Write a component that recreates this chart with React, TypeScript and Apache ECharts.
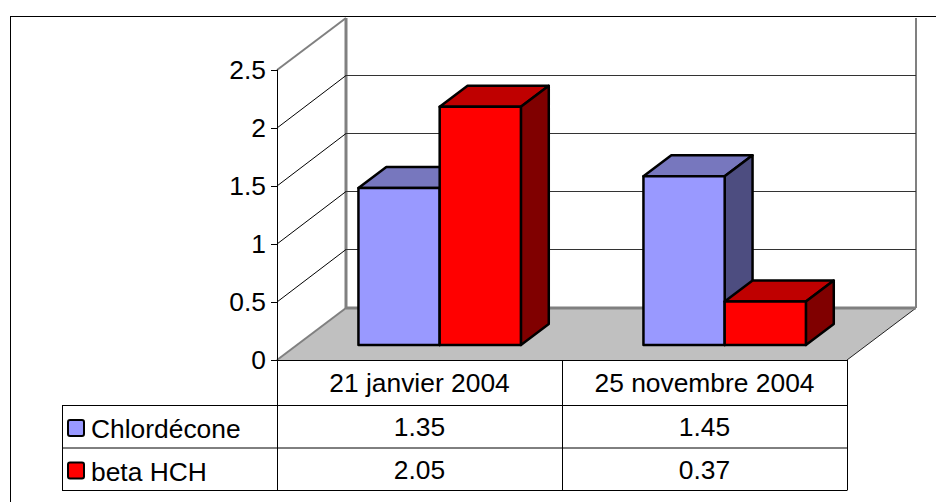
import React, { useEffect, useRef } from "react";
import * as echarts from "echarts";

const categories = ["21 janvier 2004", "25 novembre 2004"];
const chlordecone = [1.35, 1.45];
const betaHCH = [2.05, 0.37];
const seriesNames = ["Chlordécone", "beta HCH"];
const yTicks = [0, 0.5, 1, 1.5, 2, 2.5];

const FONT = "'Liberation Sans', Arial, sans-serif";
const FONT_SIZE = 26.4;
const FRONT = ["#9999FF", "#FF0000"];
const TOP = ["#7777BE", "#BF0000"];
const SIDE = ["#4D4D80", "#800000"];

// projection of the chart depth axis, in pixels
const DEPTH_X = 69;
const DEPTH_Y = -52;
const BAR_NEAR = 0.288;
const BAR_FAR = 0.692;
const BAR_SHARE = 0.285;

const GRID = { left: 277, top: 70, width: 570, height: 290 };
const ROW_LINES = [405, 447.5, 490];
const TABLE_LEFT = 62;

function barSeries(name: string, values: number[], s: number) {
  return {
    type: "custom",
    name,
    z: 3 + s,
    silent: true,
    clip: false,
    data: values.map((v, i) => [i, v]),
    encode: { x: 0, y: 1 },
    renderItem: (_p: any, api: any) => {
      const idx = api.value(0);
      const val = api.value(1);
      const cw = api.size([1, 0])[0];
      const w = cw * BAR_SHARE;
      const [cx, y0] = api.coord([idx, 0]);
      const [, y1] = api.coord([idx, val]);
      const l = cx - w + s * w + DEPTH_X * BAR_NEAR + 0.3;
      const r = l + w;
      const b = y0 + DEPTH_Y * BAR_NEAR;
      const t = y1 + DEPTH_Y * BAR_NEAR - 0.5;
      const dx = DEPTH_X * (BAR_FAR - BAR_NEAR);
      const dy = DEPTH_Y * (BAR_FAR - BAR_NEAR);
      const st = (fill: string) => ({ fill, stroke: "#000", lineWidth: 2.5, lineJoin: "round" });
      return {
        type: "group",
        children: [
          { type: "polygon", shape: { points: [[l, t], [r, t], [r + dx, t + dy], [l + dx, t + dy]] }, style: st(TOP[s]) },
          { type: "polygon", shape: { points: [[r, t], [r + dx, t + dy], [r + dx, b + dy], [r, b]] }, style: st(SIDE[s]) },
          { type: "rect", shape: { x: l, y: t, width: w, height: b - t }, style: st(FRONT[s]) },
        ],
      };
    },
  };
}

export default function App() {
  const ref = useRef<HTMLDivElement>(null);
  useEffect(() => {
    document.body.style.margin = "0";
    const chart = echarts.init(ref.current!, null, { renderer: "svg" });
    const gridRight = GRID.left + GRID.width;
    const gridBottom = GRID.top + GRID.height;
    const colW = GRID.width / categories.length;

    const hLine = (x1: number, x2: number, y: number, color = "#000", lw = 1) => ({
      type: "line", silent: true, z: 6,
      shape: { x1, y1: y, x2, y2: y }, style: { stroke: color, lineWidth: lw },
    });
    const vLine = (x: number, y1: number, y2: number, color = "#000", lw = 1) => ({
      type: "line", silent: true, z: 6,
      shape: { x1: x, y1, x2: x, y2 }, style: { stroke: color, lineWidth: lw },
    });
    const tableText = (text: string, x: number, y: number, align = "center") => ({
      type: "text", silent: true, z: 7, x, y,
      style: { text, fill: "#000", font: `${FONT_SIZE}px ${FONT}`, textAlign: align, textVerticalAlign: "middle" },
    });

    const rows = [chlordecone, betaHCH];
    const graphics: any[] = [
      hLine(10, 936, 16.5),
      vLine(10.5, 16, 502),
      vLine(TABLE_LEFT + 0.5, ROW_LINES[0], ROW_LINES[2]),
      ...ROW_LINES.map((y) => hLine(TABLE_LEFT, gridRight + 0.5, y + 0.5)),
      ...[0, 1, 2].map((i) => vLine(GRID.left + i * colW + 0.5, gridBottom, ROW_LINES[2])),
    ];
    rows.forEach((vals, r) => {
      const top = ROW_LINES[r];
      const mid = (ROW_LINES[r] + ROW_LINES[r + 1]) / 2;
      graphics.push({
        type: "rect", silent: true, z: 7,
        shape: { x: 68, y: top + 15, width: 16, height: 16, r: 2 },
        style: { fill: FRONT[r], stroke: "#000", lineWidth: 2 },
      });
      graphics.push(tableText(seriesNames[r], 91, mid + 3, "left"));
      vals.forEach((v, c) => {
        graphics.push(tableText(String(v), GRID.left + colW * (c + 0.5), mid + 1));
      });
    });

    chart.setOption({
      animation: false,
      backgroundColor: "#fff",
      grid: GRID,
      xAxis: {
        type: "category",
        data: categories,
        z: 6,
        axisLine: { lineStyle: { color: "#000", width: 1 } },
        axisTick: { show: false },
        axisLabel: { color: "#000", fontFamily: FONT, fontSize: FONT_SIZE, margin: 10, interval: 0 },
      },
      yAxis: {
        type: "value",
        min: 0,
        max: 2.5,
        interval: 0.5,
        z: 6,
        axisLine: { show: true, lineStyle: { color: "#000", width: 1 } },
        axisTick: { show: true, length: 6, lineStyle: { color: "#000", width: 1 } },
        axisLabel: { color: "#000", fontFamily: FONT, fontSize: FONT_SIZE, margin: 11 },
        splitLine: { show: false },
      },
      series: [
        {
          type: "custom",
          name: "walls",
          silent: true,
          z: 1,
          clip: false,
          data: [[0, 0]],
          encode: { x: 0, y: 1 },
          renderItem: (_p: any, api: any) => {
            const cw = api.size([1, 0])[0];
            const [cx, y0] = api.coord([0, 0]);
            const [, yMax] = api.coord([0, yTicks[yTicks.length - 1]]);
            const xl = cx - cw / 2;
            const xr = xl + cw * categories.length;
            const grey = { stroke: "#808080", lineWidth: 2 };
            const bx = xl + DEPTH_X;
            const brx = xr + DEPTH_X;
            const by = y0 + DEPTH_Y;
            const bt = yMax + DEPTH_Y;
            return {
              type: "group",
              children: [
                { type: "polygon", shape: { points: [[xl, y0], [xr, y0], [brx, by], [bx, by]] }, style: { fill: "#C0C0C0" } },
                { type: "line", shape: { x1: xr, y1: y0, x2: brx, y2: by }, style: { stroke: "#222", lineWidth: 1 } },
                { type: "line", shape: { x1: xl, y1: y0, x2: bx, y2: by }, style: grey },
                { type: "line", shape: { x1: xl, y1: yMax, x2: bx, y2: bt }, style: grey },
                { type: "line", shape: { x1: bx, y1: by, x2: brx, y2: by }, style: { stroke: "#808080", lineWidth: 3 } },
                { type: "line", shape: { x1: bx, y1: by, x2: bx, y2: bt }, style: { stroke: "#808080", lineWidth: 3 } },
                { type: "line", shape: { x1: brx, y1: by, x2: brx, y2: bt }, style: grey },
              ],
            };
          },
        },
        {
          type: "custom",
          name: "gridlines",
          silent: true,
          z: 2,
          clip: false,
          data: yTicks.slice(1, -1).map((t) => [0, t]),
          encode: { x: 0, y: 1 },
          renderItem: (_p: any, api: any) => {
            const cw = api.size([1, 0])[0];
            const [cx, y] = api.coord([0, api.value(1)]);
            const xl = cx - cw / 2;
            const xr = xl + cw * categories.length;
            const by = Math.round(y + DEPTH_Y - 1) + 0.5;
            return {
              type: "group",
              children: [
                { type: "line", shape: { x1: xl, y1: y, x2: xl + DEPTH_X, y2: by }, style: { stroke: "#000", lineWidth: 1 } },
                { type: "line", shape: { x1: xl + DEPTH_X, y1: by, x2: xr + DEPTH_X, y2: by }, style: { stroke: "#333", lineWidth: 1 } },
              ],
            };
          },
        },
        barSeries(seriesNames[0], chlordecone, 0),
        barSeries(seriesNames[1], betaHCH, 1),
      ],
      graphic: graphics,
    });
    return () => chart.dispose();
  }, []);
  return <div ref={ref} style={{ width: 936, height: 502 }} />;
}
